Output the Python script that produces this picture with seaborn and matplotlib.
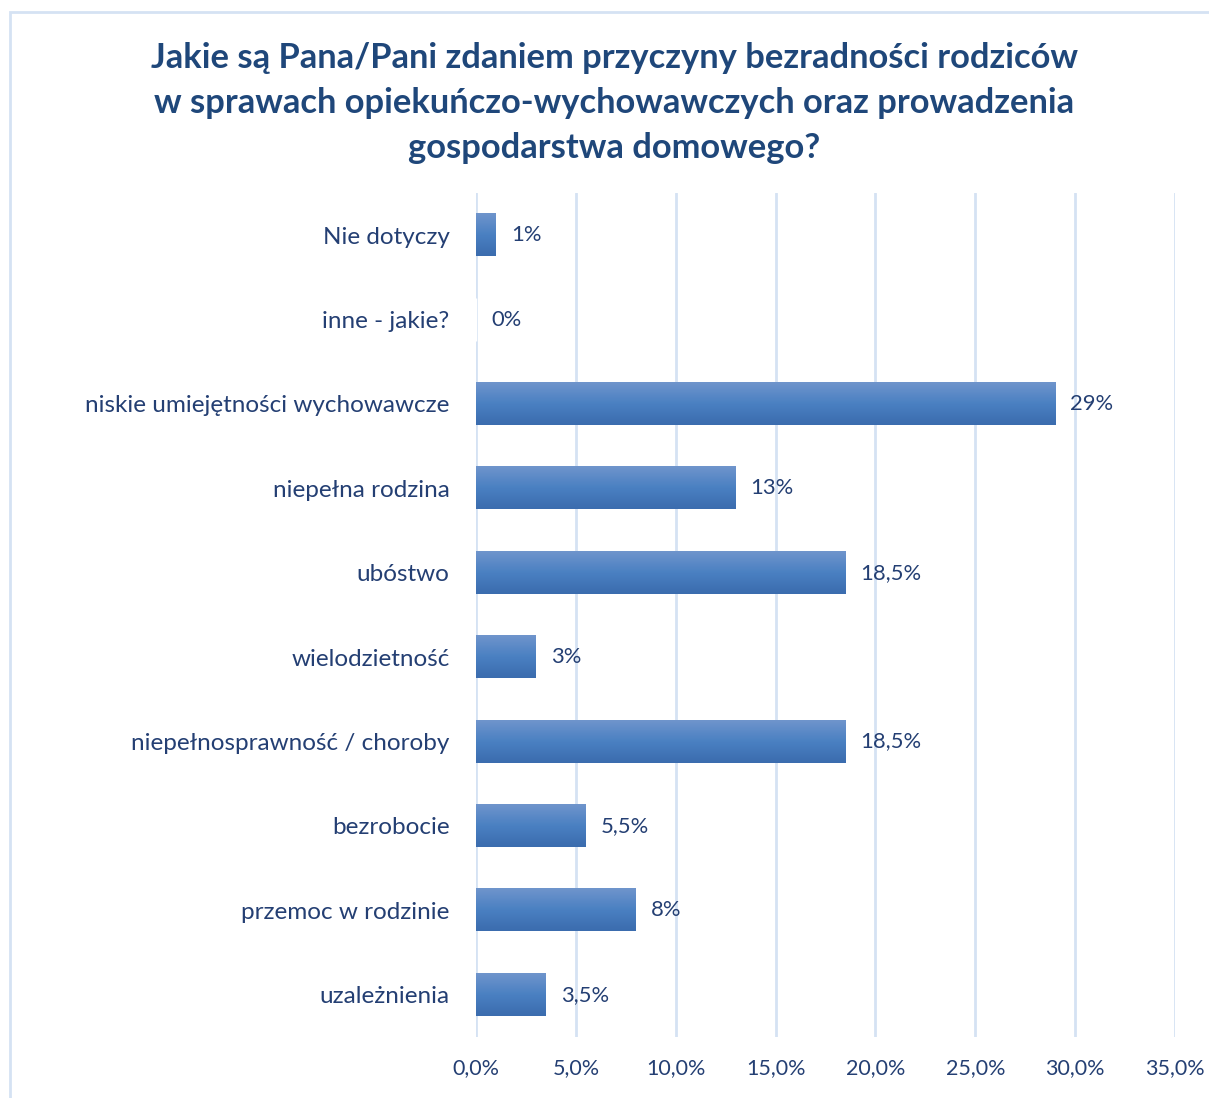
""" Wykres słupkowy: przyczyny bezradności rodziców """

from matplotlib import pyplot as plt
from matplotlib.colors import LinearSegmentedColormap
from matplotlib.patches import Rectangle
import seaborn as sb
import pandas as pd
import numpy as np

categories = [
    "Nie dotyczy",
    "inne - jakie?",
    "niskie umiejętności wychowawcze",
    "niepełna rodzina",
    "ubóstwo",
    "wielodzietność",
    "niepełnosprawność / choroby",
    "bezrobocie",
    "przemoc w rodzinie",
    "uzależnienia",
]
values = [1, 0, 29, 13, 18.5, 3, 18.5, 5.5, 8, 3.5]
value_labels = ["1%", "0%", "29%", "13%", "18,5%", "3%", "18,5%", "5,5%", "8%", "3,5%"]
x_ticks = [0, 5, 10, 15, 20, 25, 30, 35]
x_tick_labels = ["0,0%", "5,0%", "10,0%", "15,0%", "20,0%", "25,0%", "30,0%", "35,0%"]

title = ("Jakie są Pana/Pani zdaniem przyczyny bezradności rodziców\n"
         "w sprawach opiekuńczo-wychowawczych oraz prowadzenia\n"
         "gospodarstwa domowego?")

text_col = "#243F73"
title_col = "#1F477A"
grid_col = "#D5E2F3"

sb.set_style("white")
plt.rcParams['font.family'] = ['Lato', 'DejaVu Sans']

df = pd.DataFrame({"kategoria": categories, "wartosc": values})

fig = plt.figure(figsize=(12.09, 10.98), dpi=100)
ax = fig.add_axes([0.3937, 0.0556, 0.5782, 0.7687])

sb.barplot(data=df, x="wartosc", y="kategoria", orient="h", color="#4A7EBF",
           width=0.5, ax=ax)

# gradient na słupkach
grad = LinearSegmentedColormap.from_list("g", ["#6F95CC", "#4A80C2", "#3B6CAE"])
arr = np.linspace(0, 1, 64).reshape(-1, 1)
for p in ax.patches:
    x, y, w, h = p.get_x(), p.get_y(), p.get_width(), p.get_height()
    if w <= 0:
        continue
    ax.imshow(arr, cmap=grad, aspect="auto", extent=(x, x + w, y + h, y),
              origin="upper", zorder=3)
    p.set_visible(False)

for i, (v, lab) in enumerate(zip(values, value_labels)):
    ax.text(v + 0.75, i, lab, va="center", ha="left", fontsize=15.8,
            color=text_col, zorder=4)

ax.set_xlim(0, 35)
ax.set_ylim(len(categories) - 0.5, -0.5)
ax.set_xticks(x_ticks)
ax.set_xticklabels(x_tick_labels)
ax.grid(axis="x", color=grid_col, linewidth=2)
ax.set_axisbelow(True)
for s in ax.spines.values():
    s.set_visible(False)
ax.tick_params(axis="x", colors=text_col, labelsize=15.5, length=0, pad=15)
ax.tick_params(axis="y", colors=text_col, labelsize=17.5, length=0, pad=19)
ax.set_xlabel("")
ax.set_ylabel("")

fig.text(0.508, 0.906, title, ha="center", va="center", fontsize=24.8,
         fontweight="bold", color=title_col, linespacing=1.5)

# ramka wykresu
fig.patches.append(Rectangle((10 / 1209, -0.05), 1.2, 1.05 - 12 / 1098,
                             transform=fig.transFigure, fill=False,
                             edgecolor=grid_col, linewidth=2))

plt.savefig("out.png", dpi=100)
